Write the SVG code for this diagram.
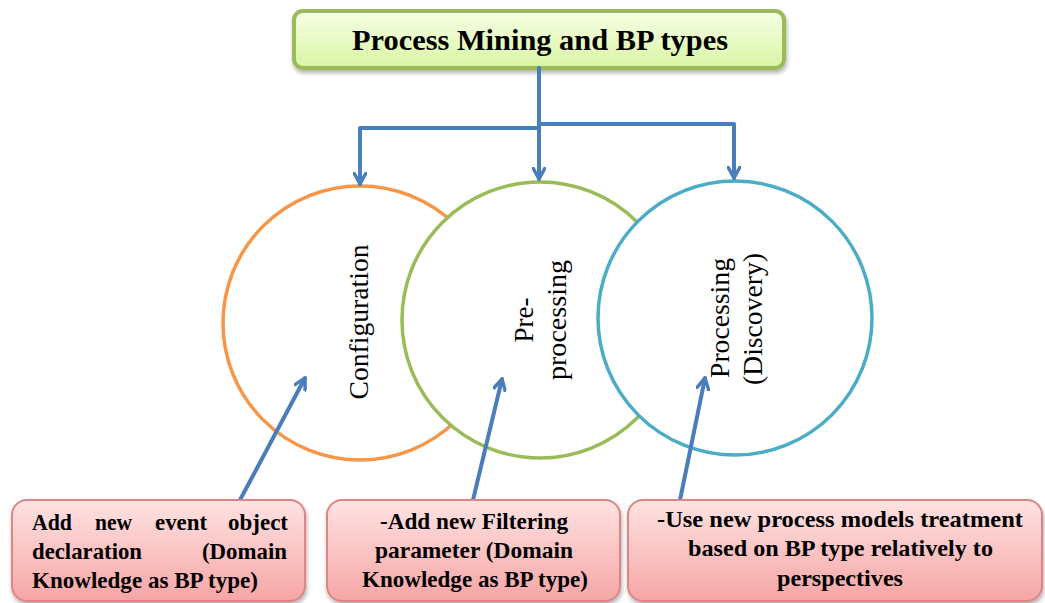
<svg xmlns="http://www.w3.org/2000/svg" width="1045" height="603" viewBox="0 0 1045 603">
<defs>
  <linearGradient id="gTitle" x1="0" y1="0" x2="0" y2="1">
    <stop offset="0" stop-color="#f7ffe6"/>
    <stop offset="1" stop-color="#d9f5a3"/>
  </linearGradient>
  <linearGradient id="gPink" x1="0" y1="0" x2="0" y2="1">
    <stop offset="0" stop-color="#ffe3e3"/>
    <stop offset="1" stop-color="#f6a5a5"/>
  </linearGradient>
  <filter id="shadow" x="-10%" y="-20%" width="120%" height="150%">
    <feDropShadow dx="1" dy="3" stdDeviation="2" flood-color="#000" flood-opacity="0.3"/>
  </filter>
  <marker id="arrow" viewBox="0 0 14 14" refX="12" refY="7" markerWidth="14" markerHeight="14" markerUnits="userSpaceOnUse" orient="auto">
    <path d="M1,1 L12,7 L1,13" fill="none" stroke="#4a7ebb" stroke-width="3.5" stroke-linecap="round" stroke-linejoin="round"/>
  </marker>
</defs>
<style>
  .conn { fill: none; stroke: #4a7ebb; stroke-width: 4; stroke-linecap: round; stroke-linejoin: round; }
  .circ { fill: #ffffff; stroke-width: 3.5; }
  .ctext { font-size: 27px; fill: #000; text-anchor: middle; }
  .box { fill: url(#gPink); stroke: #dc8584; stroke-width: 2; }
  .btext { font-size: 23px; font-weight: bold; fill: #000; }
  .title { font-size: 30px; font-weight: bold; fill: #000; text-anchor: middle; }
</style>
<rect width="1045" height="603" fill="#ffffff"/>

<g id="title-node">
  <rect x="294" y="11" width="490" height="57" rx="9" fill="url(#gTitle)" stroke="#9bbb59" stroke-width="4" filter="url(#shadow)"/>
  <text class="title" font-family="Liberation Serif, serif" x="540" y="50" textLength="376" lengthAdjust="spacingAndGlyphs">Process Mining and BP types</text>
</g>

<g id="circle-configuration">
  <circle class="circ" cx="360" cy="323" r="137" stroke="#f79646"/>
  <text class="ctext" font-family="Liberation Serif, serif" transform="translate(368,322) rotate(-90)" textLength="155" lengthAdjust="spacingAndGlyphs">Configuration</text>
</g>
<g id="circle-preprocessing">
  <circle class="circ" cx="540" cy="320" r="138" stroke="#9bbb59"/>
  <text class="ctext" font-family="Liberation Serif, serif" transform="translate(533,320) rotate(-90)">Pre-</text>
  <text class="ctext" font-family="Liberation Serif, serif" transform="translate(566,320) rotate(-90)" textLength="120" lengthAdjust="spacingAndGlyphs">processing</text>
</g>
<g id="circle-processing">
  <circle class="circ" cx="735" cy="318" r="137" stroke="#4bacc6"/>
  <text class="ctext" font-family="Liberation Serif, serif" transform="translate(729,318) rotate(-90)" textLength="120" lengthAdjust="spacingAndGlyphs">Processing</text>
  <text class="ctext" font-family="Liberation Serif, serif" transform="translate(762,319) rotate(-90)" textLength="132" lengthAdjust="spacingAndGlyphs">(Discovery)</text>
</g>

<g id="connectors">
  <path class="conn" d="M539,68 L539,179" marker-end="url(#arrow)"/>
  <path class="conn" d="M539,128 L360,128 L360,184" marker-end="url(#arrow)"/>
  <path class="conn" d="M539,124 L734,124 L734,178" marker-end="url(#arrow)"/>
  <path class="conn" d="M240,500 L305,378" marker-end="url(#arrow)"/>
  <path class="conn" d="M473,500 L502,379" marker-end="url(#arrow)"/>
  <path class="conn" d="M680,500 L705,378" marker-end="url(#arrow)"/>
</g>

<g id="box-configuration">
  <rect class="box" x="12" y="500" width="293" height="101" rx="15" filter="url(#shadow)"/>
  <text class="btext" font-family="Liberation Serif, serif" y="530">
    <tspan x="32" textLength="40" lengthAdjust="spacingAndGlyphs">Add</tspan>
    <tspan x="95" textLength="37" lengthAdjust="spacingAndGlyphs">new</tspan>
    <tspan x="155" textLength="52" lengthAdjust="spacingAndGlyphs">event</tspan>
    <tspan x="228" textLength="60" lengthAdjust="spacingAndGlyphs">object</tspan>
  </text>
  <text class="btext" font-family="Liberation Serif, serif" y="559">
    <tspan x="32" textLength="110" lengthAdjust="spacingAndGlyphs">declaration</tspan>
    <tspan x="202" textLength="85" lengthAdjust="spacingAndGlyphs">(Domain</tspan>
  </text>
  <text class="btext" font-family="Liberation Serif, serif" x="32" y="588" textLength="226" lengthAdjust="spacingAndGlyphs">Knowledge as BP type)</text>
</g>

<g id="box-preprocessing">
  <rect class="box" x="327" y="500" width="293" height="101" rx="15" filter="url(#shadow)"/>
  <text class="btext" font-family="Liberation Serif, serif" x="380" y="529" textLength="188" lengthAdjust="spacingAndGlyphs">-Add new Filtering</text>
  <text class="btext" font-family="Liberation Serif, serif" x="375" y="558" textLength="198" lengthAdjust="spacingAndGlyphs">parameter (Domain</text>
  <text class="btext" font-family="Liberation Serif, serif" x="362" y="587" textLength="226" lengthAdjust="spacingAndGlyphs">Knowledge as BP type)</text>
</g>

<g id="box-processing">
  <rect class="box" x="628" y="500" width="414" height="101" rx="15" filter="url(#shadow)"/>
  <text class="btext" font-family="Liberation Serif, serif" x="657" y="527" textLength="366" lengthAdjust="spacingAndGlyphs">-Use new process models treatment</text>
  <text class="btext" font-family="Liberation Serif, serif" x="688" y="556" textLength="305" lengthAdjust="spacingAndGlyphs">based on BP type relatively to</text>
  <text class="btext" font-family="Liberation Serif, serif" x="777" y="586" textLength="126" lengthAdjust="spacingAndGlyphs">perspectives</text>
</g>
</svg>
